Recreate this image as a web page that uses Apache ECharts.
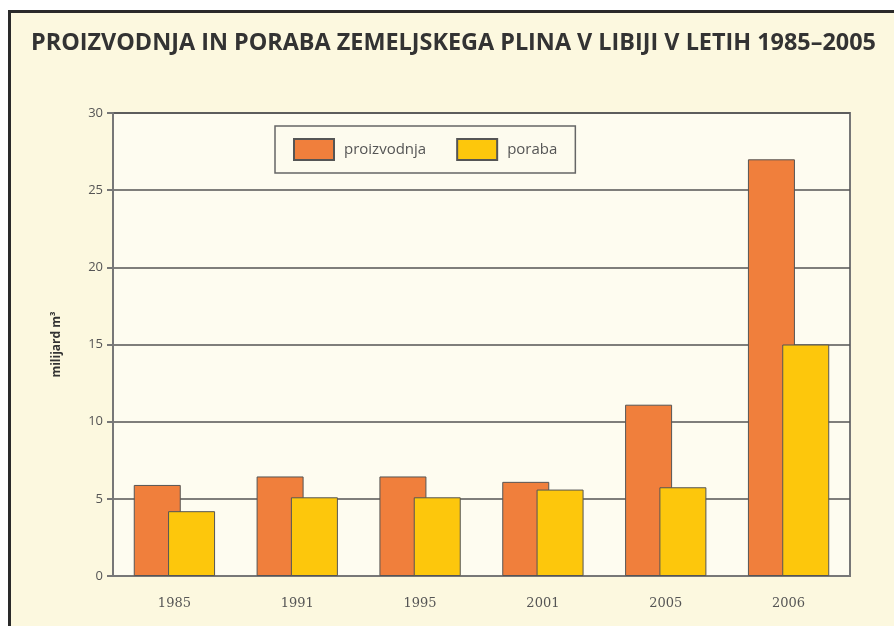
<!DOCTYPE html>
<html>
<head>
<meta charset="utf-8">
<script src="https://cdn.jsdelivr.net/npm/echarts@6/dist/echarts.min.js"></script>
<style>
  html, body { margin: 0; padding: 0; background: #ffffff; }
  #frame {
    position: absolute; left: 8px; top: 10px; width: 886px; height: 616px;
    border-left: 3px solid #2a2a2a; border-top: 3px solid #2a2a2a;
    background: #fcf8df;
  }
  #gasChart { position: absolute; left: 0; top: 0; width: 894px; height: 626px; }
</style>
</head>
<body>
<div id="frame"></div>
<div id="gasChart"></div>
<script>
// leta
const years = ['1985', '1991', '1995', '2001', '2005', '2006']
// proizvodnja, milijard m3
const production = [5.9, 6.45, 6.45, 6.1, 11.1, 27.0]
// poraba, milijard m3
const consumption = [4.2, 5.1, 5.1, 5.6, 5.75, 15.0]
const yTicks = [0, 5, 10, 15, 20, 25, 30]

const myChart = echarts.init(document.getElementById('gasChart'))
const option = {
  backgroundColor: 'transparent',
  animation: false,
  title: {
    text: 'PROIZVODNJA IN PORABA ZEMELJSKEGA PLINA V LIBIJI V LETIH 1985–2005',
    left: 26,
    top: 27,
    textStyle: {
      fontFamily: 'Open Sans',
      fontWeight: 'bold',
      fontSize: 23.4,
      color: '#333333',
    },
  },
  legend: {
    data: ['proizvodnja', 'poraba'],
    left: 275,
    top: 126,
    padding: [12, 18, 12, 18],
    icon: 'rect',
    itemWidth: 40,
    itemHeight: 21,
    itemGap: 30,
    borderColor: '#666666',
    borderWidth: 1.5,
    backgroundColor: '#fdfbee',
    textStyle: {
      fontSize: 15,
      color: '#555555',
      padding: [0, 0, 0, 5],
      fontFamily: 'Open Sans',
    },
  },
  grid: {
    left: 113,
    right: 44,
    top: 113,
    bottom: 50,
    show: true,
    backgroundColor: '#fefcf0',
    borderColor: '#777777',
    borderWidth: 2,
  },
  xAxis: {
    type: 'category',
    data: years,
    axisLine: { lineStyle: { color: '#777777', width: 2 } },
    axisTick: { show: false },
    axisLabel: { color: '#555555', fontSize: 13, margin: 21, fontFamily: 'DejaVu Serif' },
  },
  yAxis: {
    type: 'value',
    min: yTicks[0],
    max: yTicks[yTicks.length - 1],
    interval: 5,
    name: 'milijard m³',
    nameLocation: 'middle',
    nameGap: 50,
    nameTextStyle: { color: '#333333', fontSize: 12, fontWeight: 'bold', fontFamily: 'Open Sans' },
    axisLine: { show: true, lineStyle: { color: '#777777', width: 2 } },
    axisTick: { show: true, length: 6, lineStyle: { color: '#777777', width: 2 } },
    axisLabel: { color: '#555555', fontSize: 13, margin: 10, fontFamily: 'Open Sans' },
    splitLine: { lineStyle: { color: '#555555', width: 1.5 } },
  },
  series: [
    {
      name: 'proizvodnja',
      type: 'bar',
      data: production,
      barWidth: 47,
      barGap: '-27%',
      itemStyle: { color: '#f07f3c', borderColor: '#555555', borderWidth: 1 },
    },
    {
      name: 'poraba',
      type: 'bar',
      data: consumption,
      barWidth: 47,
      itemStyle: { color: '#fdc70c', borderColor: '#555555', borderWidth: 1 },
    },
  ],
}
myChart.setOption(option)
</script>
</body>
</html>
